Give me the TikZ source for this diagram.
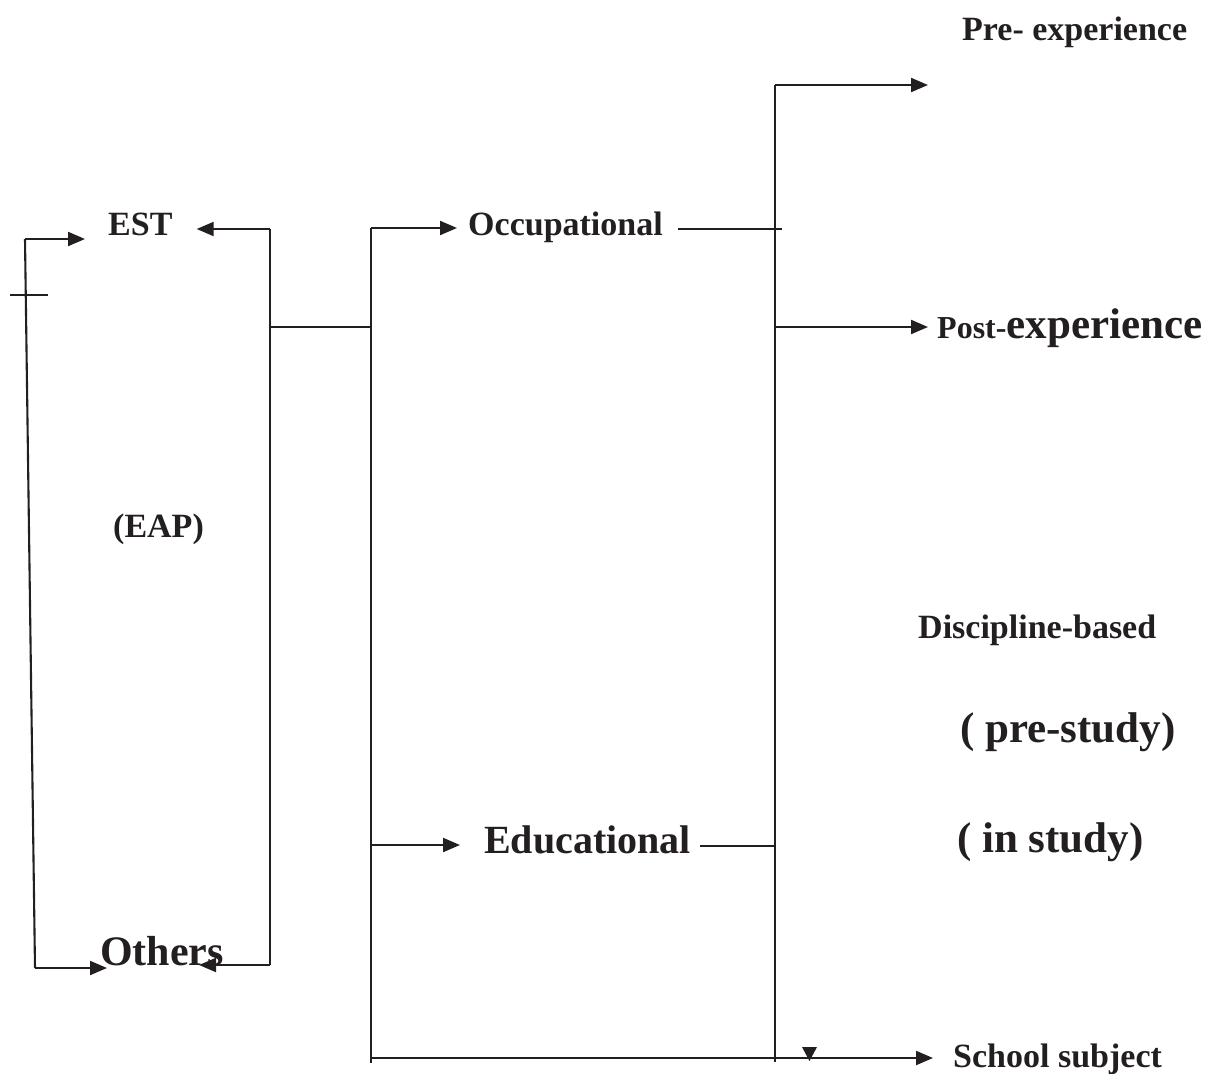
\documentclass[tikz,border=0pt]{standalone}
\usepackage{fontspec}
\setmainfont{Liberation Serif}
\usetikzlibrary{arrows.meta}
\definecolor{ink}{HTML}{231F20}
\newcommand{\fsz}[1]{\fontsize{#1}{#1}\selectfont\bfseries}
\begin{document}
\begin{tikzpicture}[x=1pt,y=-1pt,
  wire/.style={line width=2.1pt, draw=ink},
  arr/.style={wire,-{Triangle[length=17pt,width=14pt]}},
  lbl/.style={inner sep=0pt, anchor=base west, text=ink}]
\useasboundingbox (0,0) rectangle (1208,1074);

% labels
\node[lbl,font=\fsz{34}] (est)  at (108,235) {EST};
\node[lbl,font=\fsz{34}] (eap)  at (113,537) {(EAP)};
\node[lbl,font=\fsz{42}] (oth)  at (100,965) {Others};
\node[lbl,font=\fsz{34}] (occ)  at (468,235) {Occupational};
\node[lbl,font=\fsz{40}] (edu)  at (484,853) {Educational};
\node[lbl,font=\fsz{34}] (pre)  at (962,40)  {Pre- experience};
\node[lbl,font=\fsz{43}] (post) at (937,338) {{\fsz{32}Post-}experience};
\node[lbl,font=\fsz{34}] (disc) at (918,638) {Discipline-based};
\node[lbl,font=\fsz{43}] (prs)  at (960,742) {( pre-study)};
\node[lbl,font=\fsz{43}] (ins)  at (957,852) {( in study)};
\node[lbl,font=\fsz{34}] (sch)  at (953,1067) {School subject};

% junctions
\coordinate (lTop)  at (25,239);
\coordinate (lBot)  at (35,968);
\coordinate (rTop)  at (270,229);
\coordinate (rMid)  at (270,327);
\coordinate (rBot)  at (270,965);
\coordinate (mTop)  at (371,228);
\coordinate (mMid)  at (371,327);
\coordinate (mEdu)  at (371,845);
\coordinate (mBot)  at (371,1058);
\coordinate (mEnd)  at (371,1063);
\coordinate (vTop)  at (775,85);
\coordinate (vOcc)  at (775,229);
\coordinate (vPost) at (775,327);
\coordinate (vEdu)  at (775,846);
\coordinate (vEnd)  at (775,1062);
\coordinate (tickL) at (10,295);
\coordinate (tickR) at (48,295);

% left loop
\draw[wire] (lTop) -- (lBot);
\draw[wire] (tickL) -- (tickR);
\draw[arr, shorten >=23pt] (lTop) -- (lTop -| est.west);
\draw[arr, shorten >=-7pt] (lBot) -- (lBot -| oth.west);

% bracket round EST / Others
\draw[wire] (rTop) -- (rBot);
\draw[arr, shorten >=24pt] (rTop) -- (rTop -| est.east);
\draw[arr, shorten >=-25pt] (rBot) -- (rBot -| oth.east);
\draw[wire] (rMid) -- (mMid);

% middle stem
\draw[wire] (mTop) -- (mEnd);
\draw[arr, shorten >=11pt] (mTop) -- (mTop -| occ.west);
\draw[arr, shorten >=24pt] (mEdu) -- (mEdu -| edu.west);
\draw[arr, shorten >=20pt] (mBot) -- (mBot -| sch.west);

% right stem
\draw[wire] ([xshift=15pt]occ.east |- vOcc) -- ([xshift=7pt]vOcc);
\draw[wire] ([xshift=9pt]edu.east |- vEdu) -- (vEdu);
\draw[wire] (vTop) -- (vEnd);
\draw[arr, shorten >=34pt] (vTop) -- (vTop -| pre.west);
\draw[arr, shorten >=9pt] (vPost) -- (vPost -| post.west);

% small marker on the bottom line
\fill[ink] (802,1047) -- (817,1047) -- (809.5,1061) -- cycle;
\end{tikzpicture}
\end{document}
